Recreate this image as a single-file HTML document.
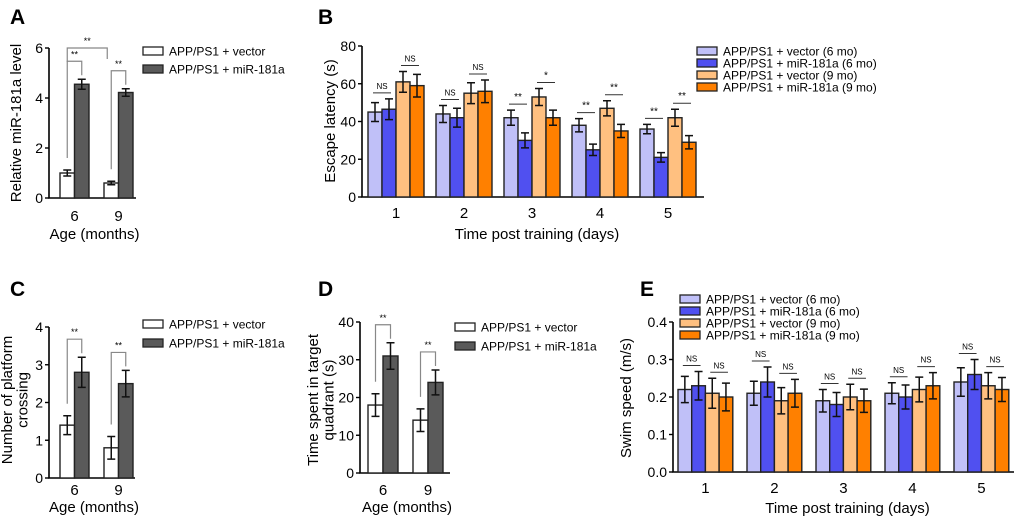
<!DOCTYPE html>
<html><head><meta charset="utf-8"><style>
html,body{margin:0;padding:0;background:#fff;}
svg{display:block;font-family:"Liberation Sans",Arial,sans-serif;}
</style></head><body>
<svg id="fig" width="1020" height="520" viewBox="0 0 1020 520" xmlns="http://www.w3.org/2000/svg"></svg>
<script>
// ---- Panel A data ----
const aCats = ["6","9"];
const aVector = [1.0, 0.6];
const aVectorErr = [0.12, 0.07];
const aMir = [4.55, 4.22];
const aMirErr = [0.2, 0.15];
const aTicks = [0,2,4,6];
// ---- Panel C data ----
const cCats = ["6","9"];
const cVector = [1.4, 0.8];
const cVectorErr = [0.25, 0.3];
const cMir = [2.8, 2.5];
const cMirErr = [0.4, 0.35];
const cTicks = [0,1,2,3,4];
// ---- Panel D data ----
const dCats = ["6","9"];
const dVector = [18, 14];
const dVectorErr = [3, 3];
const dMir = [31, 24];
const dMirErr = [3.5, 3.3];
const dTicks = [0,10,20,30,40];
// ---- Panel B data ----
const bDays = ["1","2","3","4","5"];
const bV6 = [45,44,42,38,36];
const bV6Err = [5,4.5,4,3.5,2.5];
const bM6 = [46.5,42,30,25,21];
const bM6Err = [5.5,5,4,3,2.5];
const bV9 = [61,55,53,47,42];
const bV9Err = [5.5,5.5,4.5,4,4.5];
const bM9 = [59,56,42,35,29];
const bM9Err = [6,6,4,3.5,3.5];
const bSig6 = ["NS","NS","**","**","**"];
const bSig9 = ["NS","NS","*","**","**"];
const bTicks = [0,20,40,60,80];
// ---- Panel E data ----
const eDays = ["1","2","3","4","5"];
const eV6 = [0.22,0.21,0.19,0.21,0.24];
const eV6Err = [0.035,0.032,0.03,0.028,0.038];
const eM6 = [0.23,0.24,0.18,0.20,0.26];
const eM6Err = [0.038,0.04,0.032,0.032,0.04];
const eV9 = [0.21,0.19,0.20,0.22,0.23];
const eV9Err = [0.04,0.035,0.034,0.033,0.035];
const eM9 = [0.20,0.21,0.19,0.23,0.22];
const eM9Err = [0.037,0.037,0.031,0.035,0.032];
const eSig6 = ["NS","NS","NS","NS","NS"];
const eSig9 = ["NS","NS","NS","NS","NS"];
const eTicks = [0,0.1,0.2,0.3,0.4];

const NS = "http://www.w3.org/2000/svg";
const svg = document.getElementById('fig');
function el(tag, attrs, parent, text){
  const e = document.createElementNS(NS, tag);
  for (const k in attrs) e.setAttribute(k, attrs[k]);
  if (text !== undefined) e.textContent = text;
  (parent||svg).appendChild(e);
  return e;
}
function grp(name){
  const g = el('g', {});
  
  
  return g;
}
function txt(g, x, y, s, size, anchor, name, extra){
  const t = el('text', Object.assign({x:x, y:y, 'font-size':size, 'text-anchor':anchor||'middle', fill:'#000'}, extra||{}), g, s);
  
  
  return t;
}
function axes(g, x0, x1, y0, yTop, ticks, yScale, fmt){
  const ax = el('path', {d:`M${x0} ${yTop} V${y0} H${x1}`, stroke:'#000', 'stroke-width':1.6, fill:'none'}, g);
   
  ticks.forEach(t=>{
    const y = yScale(t);
    el('line', {x1:x0-4, x2:x0, y1:y, y2:y, stroke:'#000','stroke-width':1.4}, g);
    txt(g, x0-6, y+5, fmt?fmt(t):String(t), 14, 'end', 'y-tick-label');
  });
}
function bar(g, x, w, v, err, yScale, fill, name){
  const y = yScale(v), y0 = yScale(0);
  const r = el('rect', {x:x, y:y, width:w, height:y0-y, fill:fill, stroke:'#222', 'stroke-width':1.4}, g);
  
  
  const cx = x + w/2, yt = yScale(v+err), yb = yScale(v-err);
  el('path', {d:`M${cx} ${yt} V${yb} M${cx-4} ${yt} H${cx+4} M${cx-4} ${yb} H${cx+4}`, stroke:'#111','stroke-width':1.5, fill:'none'}, g);
}
function ylabel(g, x, y, lines, size, gap){
  const t = el('text', {transform:`translate(${x},${y}) rotate(-90)`, 'font-size':size, 'text-anchor':'middle', fill:'#000'}, g);
   
  lines.forEach((l,i)=>{ el('tspan', {x:0, dy: i===0 ? 0 : (gap||size*1.15)}, t, l); });
}
function legend(g, x, y0, dy, items, boxW, size){
  items.forEach((it,i)=>{
    const y = y0 + i*dy;
    const r = el('rect', {x:x, y:y-4, width:boxW, height:8, fill:it[1], stroke:'#222','stroke-width':1.3}, g);
     
    txt(g, x+boxW+6, y+4.5, it[0], size, 'start', 'legend-entry');
  });
}
function panelLetter(x,y,s){
  const t = el('text', {x:x, y:y, 'font-size':21, 'font-weight':'bold', fill:'#000'}, svg, s);
   
}
function bracket(g, xa, ya, xb, yb, ytop, label){
  el('path', {d:`M${xa} ${ya} V${ytop} H${xb} V${yb}`, stroke:'#888','stroke-width':1.2, fill:'none'}, g);
  txt(g, (xa+xb)/2, ytop-4, label, 9, 'middle', 'significance-label');
}
function sigLine(g, xa, xb, y, label){
  el('line', {x1:xa, x2:xb, y1:y, y2:y, stroke:'#333','stroke-width':1}, g);
  txt(g, (xa+xb)/2, y-4, label, label==='NS'?8:10, 'middle', 'significance-label');
}

// ---------- Two-bar panels ----------
function twoBar(opt){
  const g = grp(opt.name);
  const ys = v => opt.y0 - (v/opt.ymax)*(opt.y0-opt.yTop);
  axes(g, opt.x0, opt.x1, opt.y0, opt.yTop, opt.ticks, ys);
  opt.cats.forEach((c,i)=>{
    const gx = opt.g0 + i*opt.gap;
    bar(g, gx, opt.w, opt.vec[i], opt.vecErr[i], ys, '#fff', 'bar-vector-'+c);
    bar(g, gx+opt.w, opt.w, opt.mir[i], opt.mirErr[i], ys, '#5a5a5a', 'bar-mir181a-'+c);
    txt(g, gx+opt.w, opt.tickY, c, 15, 'middle', 'x-tick-label');
    const xa = gx+opt.w/2, xb = gx+1.5*opt.w;
    const topA = ys(opt.vec[i]+opt.vecErr[i]) - 12;
    const topB = ys(opt.mir[i]+opt.mirErr[i]) - 4;
    const yt = topB - 14;
    bracket(g, xa, topA, xb, topB, yt, '**');
  });
  txt(g, (opt.x0+opt.x1)/2+2, opt.titleY, 'Age (months)', 15, 'middle', 'x-axis-title');
  ylabel(g, opt.ylx, opt.yly, opt.ylab, 15, 15.5);
  legend(g, opt.lx, opt.ly, opt.ldy, [['APP/PS1 + vector','#fff'],['APP/PS1 + miR-181a','#5a5a5a']], 20, 12);
  return {g, ys};
}
panelLetter(10,24,'A');
const A = twoBar({name:'panel-a-chart', cats:aCats, vec:aVector, vecErr:aVectorErr, mir:aMir, mirErr:aMirErr,
  ticks:aTicks, ymax:6, x0:49, x1:136, y0:198, yTop:48, g0:60, gap:44, w:14.5, tickY:221, titleY:239,
  ylx:21, yly:123, ylab:['Relative miR-181a level'], lx:143, ly:51, ldy:18});
bracket(A.g, 67.25, 62, 107.25, 59, 48, '**');

panelLetter(10,296,'C');
twoBar({name:'panel-c-chart', cats:cCats, vec:cVector, vecErr:cVectorErr, mir:cMir, mirErr:cMirErr,
  ticks:cTicks, ymax:4, x0:49, x1:135, y0:478, yTop:327, g0:60, gap:44, w:14.5, tickY:495, titleY:512,
  ylx:12, yly:400, ylab:['Number of platform','crossing'], lx:143, ly:324, ldy:19});

panelLetter(318,296,'D');
twoBar({name:'panel-d-chart', cats:dCats, vec:dVector, vecErr:dVectorErr, mir:dMir, mirErr:dMirErr,
  ticks:dTicks, ymax:40, x0:360, x1:450, y0:473, yTop:322, g0:368, gap:45, w:15, tickY:495, titleY:512,
  ylx:318, yly:400, ylab:['Time spent in target','quadrant (s)'], lx:455, ly:327, ldy:19});

// ---------- Four-bar panels ----------
const fourColors = ['#c0c0f8','#5050f0','#ffc080','#ff8000'];
const fourNames = ['APP/PS1 + vector (6 mo)','APP/PS1 + miR-181a (6 mo)','APP/PS1 + vector (9 mo)','APP/PS1 + miR-181a (9 mo)'];
function fourBar(opt){
  const g = grp(opt.name);
  const ys = v => opt.y0 - (v/opt.ymax)*(opt.y0-opt.yTop);
  axes(g, opt.x0, opt.x1, opt.y0, opt.yTop, opt.ticks, ys, opt.fmt);
  const series = [[opt.s[0],opt.e[0],'vector-6mo'],[opt.s[1],opt.e[1],'mir181a-6mo'],[opt.s[2],opt.e[2],'vector-9mo'],[opt.s[3],opt.e[3],'mir181a-9mo']];
  opt.cats.forEach((c,i)=>{
    const gx = opt.g0 + i*opt.gap;
    series.forEach((s,k)=>{
      bar(g, gx+k*opt.w, opt.w, s[0][i], s[1][i], ys, fourColors[k], 'bar-'+s[2]+'-day'+c);
    });
    const t1 = Math.min(ys(series[0][0][i]+series[0][1][i]), ys(series[1][0][i]+series[1][1][i])) - 6;
    sigLine(g, gx+opt.w*0.5-2, gx+opt.w*1.5+2, t1, opt.sig6[i]);
    const t2 = Math.min(ys(series[2][0][i]+series[2][1][i]), ys(series[3][0][i]+series[3][1][i])) - 6;
    sigLine(g, gx+opt.w*2.5-2, gx+opt.w*3.5+2, t2, opt.sig9[i]);
    txt(g, gx+2*opt.w, opt.tickY, c, 15, 'middle', 'x-tick-label');
  });
  txt(g, (opt.x0+opt.x1)/2+4, opt.titleY, 'Time post training (days)', 15, 'middle', 'x-axis-title');
  ylabel(g, opt.ylx, opt.yly, [opt.ylab], 15);
  legend(g, opt.lx, opt.ly, 12, fourNames.map((n,k)=>[n,fourColors[k]]), 20, 12);
}
panelLetter(318,24,'B');
fourBar({name:'panel-b-chart', cats:bDays, s:[bV6,bM6,bV9,bM9], e:[bV6Err,bM6Err,bV9Err,bM9Err], sig6:bSig6, sig9:bSig9,
  ticks:bTicks, ymax:80, x0:362, x1:704, y0:197, yTop:46, g0:368, gap:68, w:14, tickY:218, titleY:239,
  ylx:335, yly:121, ylab:'Escape latency (s)', lx:697, ly:51});

panelLetter(640,296,'E');
fourBar({name:'panel-e-chart', cats:eDays, s:[eV6,eM6,eV9,eM9], e:[eV6Err,eM6Err,eV9Err,eM9Err], sig6:eSig6, sig9:eSig9,
  ticks:eTicks, ymax:0.4, x0:673, x1:1014, y0:472, yTop:322, g0:678, gap:69, w:13.7, tickY:493, titleY:513,
  ylx:631, yly:398, ylab:'Swim speed (m/s)', lx:680, ly:299, fmt:t=>t.toFixed(1)});
</script>
</body></html>
